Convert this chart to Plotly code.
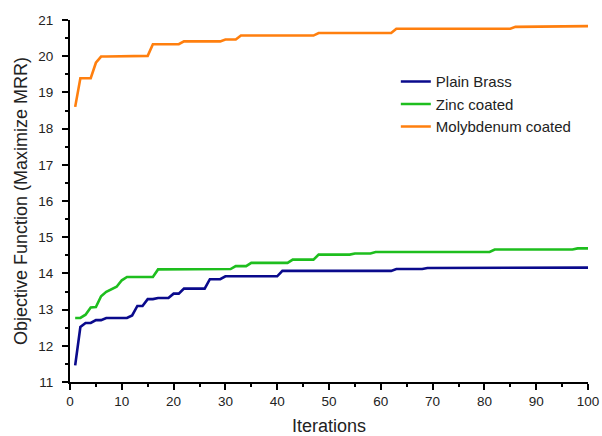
import plotly.graph_objects as go

iterations = list(range(1, 101))

plain_brass = [
    11.46, 12.52, 12.63, 12.63, 12.71, 12.71, 12.77, 12.77, 12.77, 12.77,
    12.77, 12.84, 13.10, 13.10, 13.29, 13.29, 13.32, 13.32, 13.32, 13.44,
    13.44, 13.58, 13.58, 13.58, 13.58, 13.58, 13.84, 13.84, 13.84, 13.92,
    13.92, 13.92, 13.92, 13.92, 13.92, 13.92, 13.92, 13.92, 13.92, 13.92,
    14.07, 14.07, 14.07, 14.07, 14.07, 14.07, 14.07, 14.07, 14.07, 14.07,
    14.07, 14.07, 14.07, 14.07, 14.07, 14.07, 14.07, 14.07, 14.07, 14.07,
    14.07, 14.07, 14.12, 14.12, 14.12, 14.12, 14.12, 14.12, 14.15, 14.15,
    14.15, 14.15, 14.15, 14.15, 14.15, 14.15, 14.15, 14.15, 14.15, 14.15,
    14.15, 14.15, 14.15, 14.15, 14.15, 14.15, 14.15, 14.15, 14.15, 14.15,
    14.15, 14.15, 14.16, 14.16, 14.16, 14.16, 14.16, 14.16, 14.16, 14.16,
]

zinc_coated = [
    12.77, 12.77, 12.86, 13.06, 13.07, 13.37, 13.49, 13.55, 13.63, 13.81,
    13.90, 13.90, 13.90, 13.90, 13.90, 13.90, 14.11, 14.11, 14.11, 14.11,
    14.11, 14.11, 14.11, 14.11, 14.11, 14.11, 14.11, 14.11, 14.12, 14.12,
    14.12, 14.20, 14.20, 14.20, 14.29, 14.29, 14.29, 14.29, 14.29, 14.29,
    14.29, 14.29, 14.38, 14.38, 14.38, 14.38, 14.38, 14.52, 14.52, 14.52,
    14.52, 14.52, 14.52, 14.52, 14.55, 14.55, 14.55, 14.55, 14.59, 14.59,
    14.59, 14.59, 14.59, 14.59, 14.59, 14.59, 14.59, 14.59, 14.59, 14.59,
    14.59, 14.59, 14.59, 14.59, 14.59, 14.59, 14.59, 14.59, 14.59, 14.59,
    14.59, 14.66, 14.66, 14.66, 14.66, 14.66, 14.66, 14.66, 14.66, 14.66,
    14.66, 14.66, 14.66, 14.66, 14.66, 14.66, 14.66, 14.69, 14.69, 14.69,
]

molybdenum_coated = [
    18.60, 19.39, 19.39, 19.39, 19.82, 19.99, 19.99, 19.99, 19.99, 19.99,
    20.01, 20.01, 20.01, 20.01, 20.01, 20.33, 20.33, 20.33, 20.33, 20.33,
    20.33, 20.41, 20.41, 20.41, 20.41, 20.41, 20.41, 20.41, 20.41, 20.46,
    20.46, 20.46, 20.57, 20.57, 20.57, 20.57, 20.57, 20.57, 20.57, 20.57,
    20.57, 20.57, 20.57, 20.57, 20.57, 20.57, 20.57, 20.64, 20.64, 20.64,
    20.64, 20.64, 20.64, 20.64, 20.64, 20.64, 20.64, 20.64, 20.64, 20.64,
    20.64, 20.64, 20.76, 20.76, 20.76, 20.76, 20.76, 20.76, 20.76, 20.76,
    20.76, 20.76, 20.76, 20.76, 20.76, 20.76, 20.76, 20.76, 20.76, 20.76,
    20.76, 20.76, 20.76, 20.76, 20.76, 20.81, 20.81, 20.81, 20.81, 20.81,
    20.81, 20.81, 20.81, 20.81, 20.81, 20.81, 20.81, 20.83, 20.83, 20.83,
]

series_names = ["Plain Brass", "Zinc coated", "Molybdenum coated"]
series_colors = ["#0A0A8C", "#1EBE1E", "#FF7F0E"]

FONT = "Liberation Sans, Arial, sans-serif"

fig = go.Figure()
for name, vals, col in zip(series_names, [plain_brass, zinc_coated, molybdenum_coated], series_colors):
    fig.add_trace(go.Scatter(x=iterations, y=vals, mode="lines", name=name,
                             line=dict(color=col, width=2.6)))

axis_common = dict(
    showline=True, linecolor="black", linewidth=2, mirror=False,
    ticks="outside", ticklen=6, tickwidth=2, tickcolor="black",
    showgrid=False, zeroline=False, automargin=False,
    tickfont=dict(family=FONT, size=13.5, color="#222"),
)

fig.update_xaxes(range=[0, 100], dtick=10, tick0=0,
                 minor=dict(ticks="outside", ticklen=3, tickwidth=2, dtick=5, tick0=0, tickcolor="black"),
                 title=dict(text="Iterations", font=dict(family=FONT, size=18, color="#222"), standoff=12),
                 **axis_common)
fig.update_yaxes(range=[11, 21], dtick=1, tick0=11,
                 minor=dict(ticks="outside", ticklen=3, tickwidth=2, dtick=0.5, tick0=11, tickcolor="black"),
                 title=dict(text="Objective Function (Maximize MRR)", font=dict(family=FONT, size=18, color="#222"), standoff=6),
                 ticklabelstandoff=6,
                 **axis_common)

fig.update_layout(
    width=602, height=436,
    margin=dict(l=70, r=14, t=20, b=54),
    plot_bgcolor="white", paper_bgcolor="white",
    legend=dict(x=0.629, y=0.875, xanchor="left", yanchor="top",
                font=dict(family=FONT, size=15, color="#222"),
                bgcolor="rgba(0,0,0,0)", tracegroupgap=0, itemwidth=30),
    showlegend=True,
)

fig.write_html("out.html")
